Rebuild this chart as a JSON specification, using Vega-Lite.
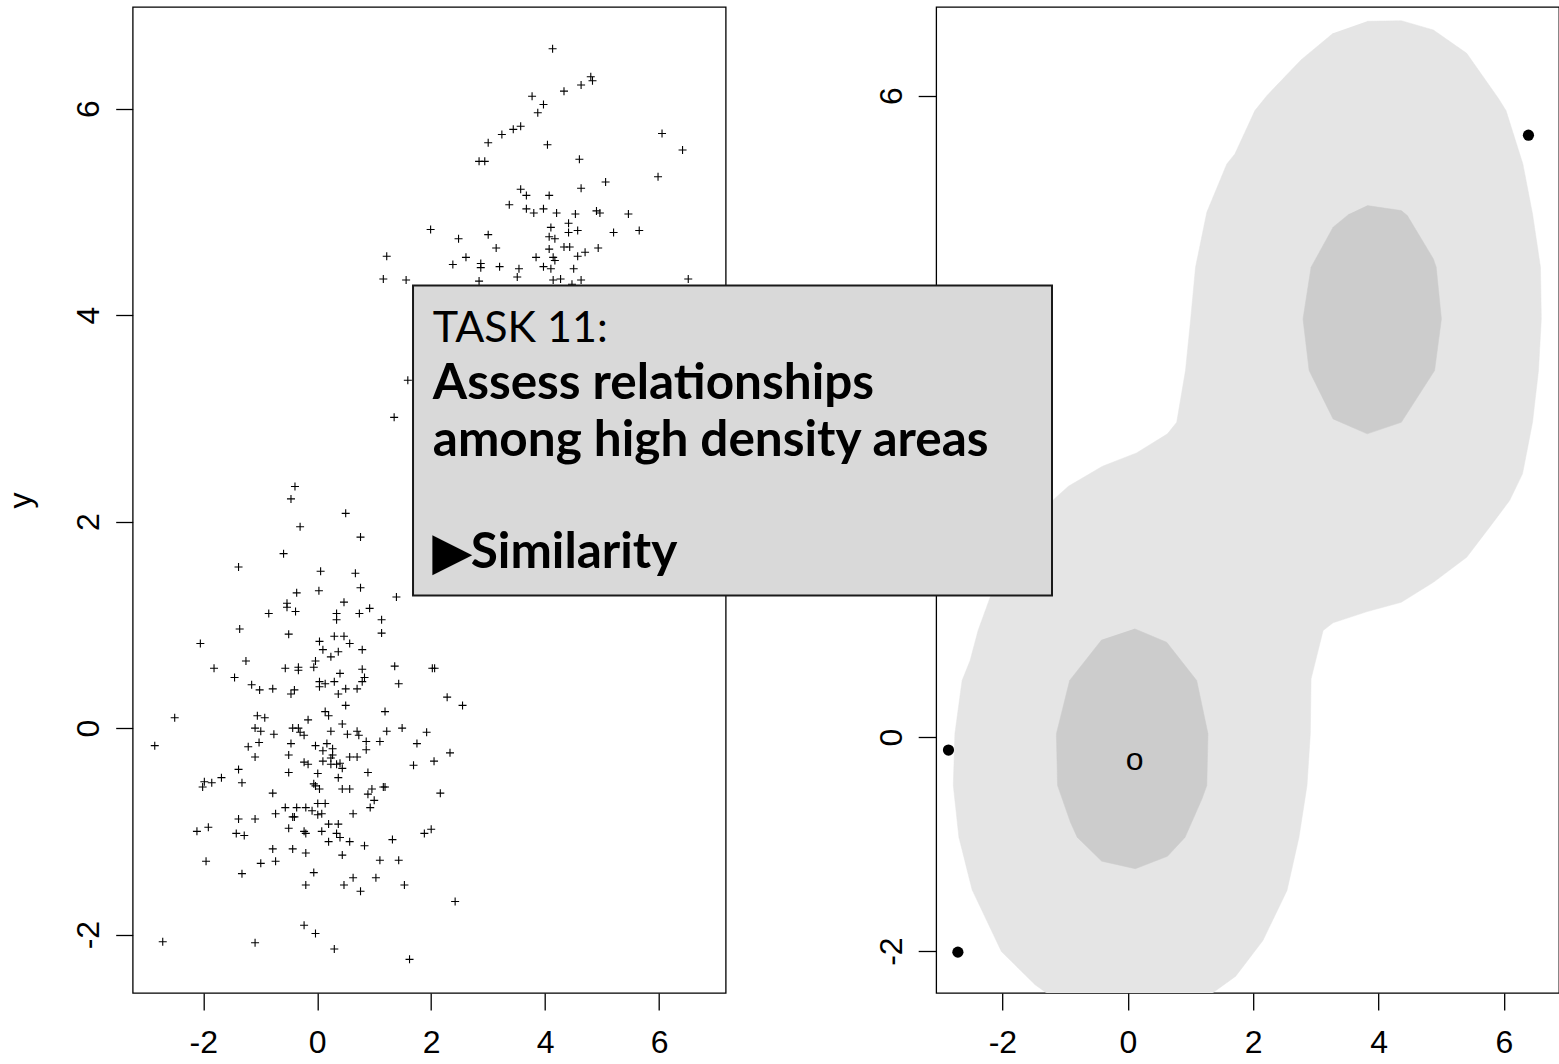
{
  "$schema": "https://vega.github.io/schema/vega-lite/v6.json",
  "padding": {"left": 2.7, "top": 6, "right": 0, "bottom": 0},
  "background": "white",
  "spacing": 210.5,
  "bounds": "flush",
  "config": {
    "view": {"stroke": "black", "strokeWidth": 1.3},
    "axis": {
      "labelFont": "Liberation Sans", "labelFontSize": 32, "labelColor": "black",
      "tickColor": "black", "tickSize": 17, "tickWidth": 1.3,
      "domain": false, "grid": false, "labelFlush": false, "labelOverlap": false,
      "labelExpr": "toString(datum.value)",
      "titleFont": "Liberation Sans", "titleFontSize": 32, "titleFontWeight": "normal", "titleColor": "black"
    }
  },
  "datasets": {
    "pts": [
      {"x":4.13,"y":6.58},{"x":4.8,"y":6.31},{"x":4.83,"y":6.27},{"x":4.63,"y":6.23},{"x":4.33,"y":6.17},{"x":3.77,"y":6.12},{"x":3.97,"y":6.04},{"x":3.87,"y":5.96},{"x":3.57,"y":5.83},{"x":3.44,"y":5.8},{"x":3.24,"y":5.75},{"x":3.0,"y":5.67},{"x":4.04,"y":5.65},{"x":6.05,"y":5.76},{"x":6.41,"y":5.6},{"x":2.84,"y":5.49},{"x":2.94,"y":5.49},{"x":4.6,"y":5.51},{"x":5.98,"y":5.34},{"x":5.06,"y":5.29},{"x":4.63,"y":5.23},{"x":3.57,"y":5.22},{"x":3.67,"y":5.16},{"x":4.07,"y":5.16},{"x":3.37,"y":5.07},{"x":3.67,"y":5.03},{"x":3.8,"y":4.99},{"x":3.97,"y":5.03},{"x":4.2,"y":4.99},{"x":4.53,"y":4.98},{"x":4.9,"y":5.01},{"x":4.96,"y":4.99},{"x":5.46,"y":4.98},{"x":4.41,"y":4.89},{"x":4.1,"y":4.85},{"x":4.41,"y":4.8},{"x":4.57,"y":4.82},{"x":5.2,"y":4.8},{"x":5.65,"y":4.82},{"x":4.07,"y":4.76},{"x":4.17,"y":4.74},{"x":1.99,"y":4.83},{"x":2.48,"y":4.74},{"x":3.0,"y":4.78},{"x":3.14,"y":4.65},{"x":4.07,"y":4.64},{"x":4.33,"y":4.66},{"x":4.43,"y":4.66},{"x":4.7,"y":4.61},{"x":4.93,"y":4.65},{"x":4.57,"y":4.57},{"x":1.22,"y":4.57},{"x":2.61,"y":4.56},{"x":3.84,"y":4.56},{"x":4.14,"y":4.56},{"x":4.17,"y":4.53},{"x":2.38,"y":4.49},{"x":2.87,"y":4.5},{"x":2.87,"y":4.46},{"x":3.2,"y":4.47},{"x":3.54,"y":4.45},{"x":3.97,"y":4.47},{"x":4.1,"y":4.45},{"x":4.5,"y":4.45},{"x":3.51,"y":4.37},{"x":1.16,"y":4.35},{"x":1.56,"y":4.34},{"x":2.84,"y":4.33},{"x":4.14,"y":4.34},{"x":4.27,"y":4.35},{"x":4.63,"y":4.34},{"x":6.51,"y":4.35},{"x":4.47,"y":4.3},
      {"x":1.59,"y":3.37},{"x":1.35,"y":3.01},{"x":-0.39,"y":2.34},{"x":-0.46,"y":2.22},{"x":0.5,"y":2.08},{"x":-0.3,"y":1.95},{"x":0.76,"y":1.85},{"x":-0.59,"y":1.69},{"x":-1.38,"y":1.56},{"x":0.06,"y":1.52},{"x":0.67,"y":1.5},{"x":-0.36,"y":1.31},{"x":0.03,"y":1.33},{"x":0.76,"y":1.36},{"x":1.39,"y":1.27},{"x":-0.53,"y":1.21},{"x":-0.53,"y":1.17},{"x":0.47,"y":1.22},{"x":0.92,"y":1.16},
      {"x":-0.85,"y":1.11},{"x":-0.38,"y":1.13},{"x":0.34,"y":1.11},{"x":0.34,"y":1.05},{"x":0.74,"y":1.11},{"x":1.13,"y":1.05},{"x":-1.36,"y":0.96},{"x":-0.5,"y":0.91},{"x":1.13,"y":0.92},{"x":-2.05,"y":0.82},{"x":0.04,"y":0.84},{"x":0.3,"y":0.89},{"x":0.47,"y":0.89},{"x":0.57,"y":0.82},{"x":0.1,"y":0.76},{"x":0.37,"y":0.74},{"x":0.79,"y":0.76},{"x":0.24,"y":0.69},{"x":-1.25,"y":0.65},{"x":-0.03,"y":0.65},{"x":-1.81,"y":0.58},{"x":-0.56,"y":0.58},{"x":-0.33,"y":0.59},{"x":-0.33,"y":0.56},{"x":-0.06,"y":0.59},{"x":0.4,"y":0.53},{"x":0.79,"y":0.57},{"x":1.36,"y":0.6},{"x":2.02,"y":0.58},{"x":2.06,"y":0.58},{"x":-1.45,"y":0.49},{"x":0.83,"y":0.49},{"x":0.79,"y":0.45},{"x":0.04,"y":0.45},{"x":0.04,"y":0.4},{"x":0.14,"y":0.43},{"x":0.3,"y":0.45},{"x":-1.15,"y":0.42},{"x":-1.01,"y":0.37},{"x":-0.78,"y":0.38},{"x":-0.4,"y":0.37},{"x":-0.46,"y":0.33},{"x":0.37,"y":0.33},{"x":0.5,"y":0.38},{"x":0.7,"y":0.38},{"x":1.43,"y":0.43},{"x":2.28,"y":0.3},{"x":2.55,"y":0.22},{"x":0.5,"y":0.22},{"x":-2.5,"y":0.1},{"x":-1.05,"y":0.12},{"x":-0.92,"y":0.1},{"x":-0.16,"y":0.08},{"x":0.14,"y":0.16},{"x":0.2,"y":0.12},{"x":1.19,"y":0.16},{"x":0.44,"y":0.04},{"x":-1.09,"y":0.0},{"x":-0.99,"y":-0.03},{"x":-0.76,"y":-0.06},{"x":-0.43,"y":0.0},{"x":-0.33,"y":0.0},{"x":-0.3,"y":-0.04},{"x":-0.23,"y":-0.07},{"x":0.24,"y":-0.03},{"x":0.53,"y":-0.06},{"x":0.7,"y":-0.03},{"x":0.73,"y":-0.07},{"x":1.22,"y":-0.03},{"x":1.49,"y":0.0},{"x":1.92,"y":-0.04},{"x":-2.85,"y":-0.17},{"x":-1.21,"y":-0.18},{"x":-1.02,"y":-0.14},{"x":-0.46,"y":-0.15},{"x":-0.03,"y":-0.17},{"x":0.17,"y":-0.15},{"x":0.86,"y":-0.13},{"x":1.1,"y":-0.13},{"x":1.75,"y":-0.15},{"x":-1.09,"y":-0.28},{"x":-0.5,"y":-0.26},{"x":0.1,"y":-0.22},{"x":0.27,"y":-0.2},{"x":0.27,"y":-0.26},{"x":0.24,"y":-0.29},{"x":0.57,"y":-0.28},{"x":0.7,"y":-0.28},{"x":0.86,"y":-0.21},{"x":2.33,"y":-0.24},{"x":-0.23,"y":-0.33},{"x":-0.16,"y":-0.35},{"x":0.1,"y":-0.32},{"x":0.24,"y":-0.35},{"x":0.34,"y":-0.35},{"x":0.44,"y":-0.39},{"x":0.4,"y":-0.34},{"x":2.05,"y":-0.32},{"x":1.69,"y":-0.36},{"x":-1.38,"y":-0.4},{"x":-0.5,"y":-0.43},{"x":0.01,"y":-0.44},{"x":0.89,"y":-0.43},{"x":0.37,"y":-0.48},{"x":-1.68,"y":-0.48},{"x":-1.98,"y":-0.52},{"x":-1.85,"y":-0.53},{"x":-2.01,"y":-0.57},{"x":-1.32,"y":-0.53},{"x":-0.06,"y":-0.54},{"x":-0.03,"y":-0.56},{"x":0.04,"y":-0.59},{"x":0.44,"y":-0.59},{"x":0.57,"y":-0.59},{"x":0.96,"y":-0.59},{"x":1.16,"y":-0.57},{"x":1.19,"y":-0.57},{"x":-0.78,"y":-0.63},{"x":0.89,"y":-0.64},{"x":1.0,"y":-0.7},{"x":2.16,"y":-0.63},{"x":0.93,"y":-0.77},{"x":-0.56,"y":-0.77},{"x":-0.36,"y":-0.77},{"x":-0.2,"y":-0.77},{"x":-0.09,"y":-0.8},{"x":0.01,"y":-0.73},{"x":0.14,"y":-0.73},{"x":0.01,"y":-0.84},{"x":0.08,"y":-0.83},{"x":-0.43,"y":-0.86},{"x":-0.4,"y":-0.86},{"x":-0.73,"y":-0.83},{"x":0.63,"y":-0.83},{"x":-1.38,"y":-0.88},{"x":-1.09,"y":-0.88},{"x":0.2,"y":-0.93},{"x":0.37,"y":-0.93},{"x":-2.11,"y":-1.0},{"x":-1.91,"y":-0.96},{"x":-1.42,"y":-1.02},{"x":-1.28,"y":-1.04},{"x":-0.5,"y":-0.97},{"x":-0.23,"y":-1.0},{"x":-0.2,"y":-1.02},{"x":0.08,"y":-1.0},{"x":0.34,"y":-1.02},{"x":0.4,"y":-1.06},{"x":0.2,"y":-1.1},{"x":0.57,"y":-1.1},{"x":0.83,"y":-1.14},{"x":1.32,"y":-1.08},{"x":1.88,"y":-1.02},{"x":2.0,"y":-0.98},{"x":-0.78,"y":-1.17},{"x":-0.43,"y":-1.17},{"x":-0.2,"y":-1.21},{"x":0.44,"y":-1.23},{"x":-1.95,"y":-1.29},{"x":-0.99,"y":-1.31},{"x":-0.73,"y":-1.29},{"x":1.1,"y":-1.28},{"x":1.43,"y":-1.28},{"x":-0.06,"y":-1.4},{"x":-1.32,"y":-1.41},{"x":0.63,"y":-1.45},{"x":1.03,"y":-1.45},{"x":-0.2,"y":-1.52},{"x":0.47,"y":-1.52},{"x":1.53,"y":-1.52},{"x":0.76,"y":-1.58},{"x":2.42,"y":-1.68},{"x":-0.23,"y":-1.91},{"x":-0.03,"y":-1.99},{"x":-2.71,"y":-2.07},{"x":-1.09,"y":-2.08},{"x":0.3,"y":-2.14},{"x":1.62,"y":-2.24}
    ],
    "contours": [
      {"p":"outer","o":1,"x":3.818,"y":6.695},{"p":"outer","o":2,"x":4.362,"y":6.701},{"p":"outer","o":3,"x":4.874,"y":6.614},{"p":"outer","o":4,"x":5.405,"y":6.396},{"p":"outer","o":5,"x":5.917,"y":5.969},{"p":"outer","o":6,"x":6.032,"y":5.86},{"p":"outer","o":7,"x":6.301,"y":5.361},{"p":"outer","o":8,"x":6.455,"y":4.894},{"p":"outer","o":9,"x":6.582,"y":4.395},{"p":"outer","o":10,"x":6.595,"y":3.912},{"p":"outer","o":11,"x":6.55,"y":3.429},{"p":"outer","o":12,"x":6.455,"y":2.945},{"p":"outer","o":13,"x":6.295,"y":2.463},{"p":"outer","o":14,"x":6.089,"y":2.213},{"p":"outer","o":15,"x":5.77,"y":1.964},{"p":"outer","o":16,"x":5.405,"y":1.683},{"p":"outer","o":17,"x":4.874,"y":1.449},{"p":"outer","o":18,"x":4.362,"y":1.262},{"p":"outer","o":19,"x":3.818,"y":1.175},{"p":"outer","o":20,"x":3.274,"y":1.07},{"p":"outer","o":21,"x":3.115,"y":0.998},{"p":"outer","o":22,"x":2.923,"y":0.546},{"p":"outer","o":23,"x":2.911,"y":0.032},{"p":"outer","o":24,"x":2.858,"y":-0.452},{"p":"outer","o":25,"x":2.73,"y":-0.935},{"p":"outer","o":26,"x":2.539,"y":-1.433},{"p":"outer","o":27,"x":2.155,"y":-1.901},{"p":"outer","o":28,"x":1.721,"y":-2.235},{"p":"outer","o":29,"x":1.356,"y":-2.39},{"p":"outer","o":30,"x":1.07,"y":-2.55},{"p":"outer","o":31,"x":-1.0,"y":-2.55},{"p":"outer","o":32,"x":-1.3,"y":-2.39},{"p":"outer","o":33,"x":-1.478,"y":-2.315},{"p":"outer","o":34,"x":-2.016,"y":-2.004},{"p":"outer","o":35,"x":-2.483,"y":-1.427},{"p":"outer","o":36,"x":-2.694,"y":-0.935},{"p":"outer","o":37,"x":-2.783,"y":-0.452},{"p":"outer","o":38,"x":-2.758,"y":0.032},{"p":"outer","o":39,"x":-2.643,"y":0.53},{"p":"outer","o":40,"x":-2.515,"y":0.717},{"p":"outer","o":41,"x":-2.388,"y":0.998},{"p":"outer","o":42,"x":-2.195,"y":1.309},{"p":"outer","o":43,"x":-2.04,"y":1.56},{"p":"outer","o":44,"x":-1.64,"y":1.93},{"p":"outer","o":45,"x":-1.172,"y":2.229},{"p":"outer","o":46,"x":-0.947,"y":2.347},{"p":"outer","o":47,"x":-0.404,"y":2.534},{"p":"outer","o":48,"x":0.14,"y":2.659},{"p":"outer","o":49,"x":0.633,"y":2.837},{"p":"outer","o":50,"x":0.78,"y":2.945},{"p":"outer","o":51,"x":0.92,"y":3.429},{"p":"outer","o":52,"x":1.003,"y":3.912},{"p":"outer","o":53,"x":1.08,"y":4.395},{"p":"outer","o":54,"x":1.26,"y":4.909},{"p":"outer","o":55,"x":1.579,"y":5.361},{"p":"outer","o":56,"x":1.708,"y":5.455},{"p":"outer","o":57,"x":2.027,"y":5.86},{"p":"outer","o":58,"x":2.218,"y":6.0},{"p":"outer","o":59,"x":2.762,"y":6.334},{"p":"outer","o":60,"x":3.274,"y":6.583},
      {"p":"upper","o":1,"x":3.818,"y":4.972},{"p":"upper","o":2,"x":4.362,"y":4.925},{"p":"upper","o":3,"x":4.458,"y":4.878},{"p":"upper","o":4,"x":4.874,"y":4.473},{"p":"upper","o":5,"x":4.919,"y":4.395},{"p":"upper","o":6,"x":5.002,"y":3.912},{"p":"upper","o":7,"x":4.893,"y":3.429},{"p":"upper","o":8,"x":4.362,"y":2.945},{"p":"upper","o":9,"x":3.818,"y":2.837},{"p":"upper","o":10,"x":3.274,"y":2.977},{"p":"upper","o":11,"x":2.892,"y":3.429},{"p":"upper","o":12,"x":2.794,"y":3.912},{"p":"upper","o":13,"x":2.923,"y":4.395},{"p":"upper","o":14,"x":3.274,"y":4.769},{"p":"upper","o":15,"x":3.531,"y":4.894},
      {"p":"lower","o":1,"x":0.108,"y":1.014},{"p":"lower","o":2,"x":0.62,"y":0.888},{"p":"lower","o":3,"x":1.099,"y":0.53},{"p":"lower","o":4,"x":1.279,"y":0.032},{"p":"lower","o":5,"x":1.26,"y":-0.452},{"p":"lower","o":6,"x":1.183,"y":-0.576},{"p":"lower","o":7,"x":0.914,"y":-0.935},{"p":"lower","o":8,"x":0.633,"y":-1.113},{"p":"lower","o":9,"x":0.121,"y":-1.23},{"p":"lower","o":10,"x":-0.416,"y":-1.159},{"p":"lower","o":11,"x":-0.807,"y":-0.935},{"p":"lower","o":12,"x":-0.915,"y":-0.795},{"p":"lower","o":13,"x":-1.12,"y":-0.452},{"p":"lower","o":14,"x":-1.139,"y":0.032},{"p":"lower","o":15,"x":-0.928,"y":0.53},{"p":"lower","o":16,"x":-0.416,"y":0.911}
    ],
    "outliers": [{"x":-2.86,"y":-0.12},{"x":-2.71,"y":-2.01},{"x":6.39,"y":5.63}],
    "mode": [{"x":0.11,"y":-0.302,"t":"o"}],
    "box": [{"x":-11.4,"x2":-1.209,"y":4.224,"y2":1.325}],
    "texts": [
      {"t":"TASK 11:","x":-11.085,"y":3.693,"w":"normal"},
      {"t":"Assess relationships","x":-11.085,"y":3.164,"w":"bold"},
      {"t":"among high density areas","x":-11.085,"y":2.634,"w":"bold"},
      {"t":"▶Similarity","x":-11.085,"y":1.584,"w":"bold"}
    ]
  },
  "hconcat": [
    {
      "width": 593,
      "height": 986,
      "data": {"name": "pts"},
      "mark": {"type": "point", "shape": "M-1,0L1,0M0,-1L0,1", "filled": false, "stroke": "black", "strokeWidth": 1.1, "size": 64, "opacity": 1},
      "encoding": {
        "x": {"field": "x", "type": "quantitative", "scale": {"domain": [-3.237, 7.167], "nice": false, "zero": false},
              "axis": {"values": [-2, 0, 2, 4, 6], "title": null, "labelBaseline": "top", "labelPadding": 18}},
        "y": {"field": "y", "type": "quantitative", "scale": {"domain": [-2.566, 6.985], "nice": false, "zero": false},
              "axis": {"values": [-2, 0, 2, 4, 6], "title": "y", "labelAngle": -90, "labelAlign": "center", "labelBaseline": "alphabetic", "labelPadding": 17,
                       "titleAngle": -90, "titleAlign": "center", "titleBaseline": "alphabetic", "titleX": -102.5, "titleY": 493}}
      }
    },
    {
      "width": 622.8,
      "height": 986,
      "layer": [
        {
          "data": {"name": "contours"},
          "transform": [{"filter": "datum.p == 'outer'"}],
          "mark": {"type": "line", "fill": "#E5E5E5", "stroke": "#E5E5E5", "strokeWidth": 0.5, "clip": true},
          "encoding": {
            "x": {"field": "x", "type": "quantitative", "scale": {"domain": [-3.056, 6.877], "nice": false, "zero": false},
                  "axis": {"values": [-2, 0, 2, 4, 6], "title": null, "labelBaseline": "top", "labelPadding": 18}},
            "y": {"field": "y", "type": "quantitative", "scale": {"domain": [-2.392, 6.829], "nice": false, "zero": false},
                  "axis": {"values": [-2, 0, 2, 4, 6], "title": null, "labelAngle": -90, "labelAlign": "center", "labelBaseline": "alphabetic", "labelPadding": 17, "tickSize": 18}},
            "order": {"field": "o", "type": "quantitative"}
          }
        },
        {
          "data": {"name": "contours"},
          "transform": [{"filter": "datum.p != 'outer'"}],
          "mark": {"type": "line", "fill": "#CCCCCC", "stroke": "#CCCCCC", "strokeWidth": 0.5, "clip": true},
          "encoding": {
            "x": {"field": "x", "type": "quantitative"},
            "y": {"field": "y", "type": "quantitative"},
            "detail": {"field": "p"},
            "order": {"field": "o", "type": "quantitative"}
          }
        },
        {
          "data": {"name": "outliers"},
          "mark": {"type": "circle", "size": 125, "color": "black", "opacity": 1},
          "encoding": {
            "x": {"field": "x", "type": "quantitative"},
            "y": {"field": "y", "type": "quantitative"}
          }
        },
        {
          "data": {"name": "mode"},
          "mark": {"type": "text", "font": "Liberation Sans", "fontSize": 32, "color": "black", "align": "center", "baseline": "alphabetic"},
          "encoding": {
            "x": {"field": "x", "type": "quantitative"},
            "y": {"field": "y", "type": "quantitative"},
            "text": {"field": "t"}
          }
        },
        {
          "data": {"name": "box"},
          "mark": {"type": "rect", "fill": "#D9D9D9", "stroke": "#1a1a1a", "strokeWidth": 2, "clip": false},
          "encoding": {
            "x": {"field": "x", "type": "quantitative"},
            "x2": {"field": "x2"},
            "y": {"field": "y", "type": "quantitative"},
            "y2": {"field": "y2"}
          }
        },
        {
          "data": {"name": "texts"},
          "transform": [{"filter": "datum.w == 'normal'"}],
          "mark": {"type": "text", "font": "Lato", "fontSize": 43, "fontWeight": "normal", "color": "black", "align": "left", "baseline": "alphabetic", "clip": false},
          "encoding": {
            "x": {"field": "x", "type": "quantitative"},
            "y": {"field": "y", "type": "quantitative"},
            "text": {"field": "t"}
          }
        },
        {
          "data": {"name": "texts"},
          "transform": [{"filter": "datum.w == 'bold'"}],
          "mark": {"type": "text", "font": "Lato", "fontSize": 49.5, "fontWeight": "bold", "color": "black", "align": "left", "baseline": "alphabetic", "clip": false},
          "encoding": {
            "x": {"field": "x", "type": "quantitative"},
            "y": {"field": "y", "type": "quantitative"},
            "text": {"field": "t"}
          }
        }
      ]
    }
  ]
}
